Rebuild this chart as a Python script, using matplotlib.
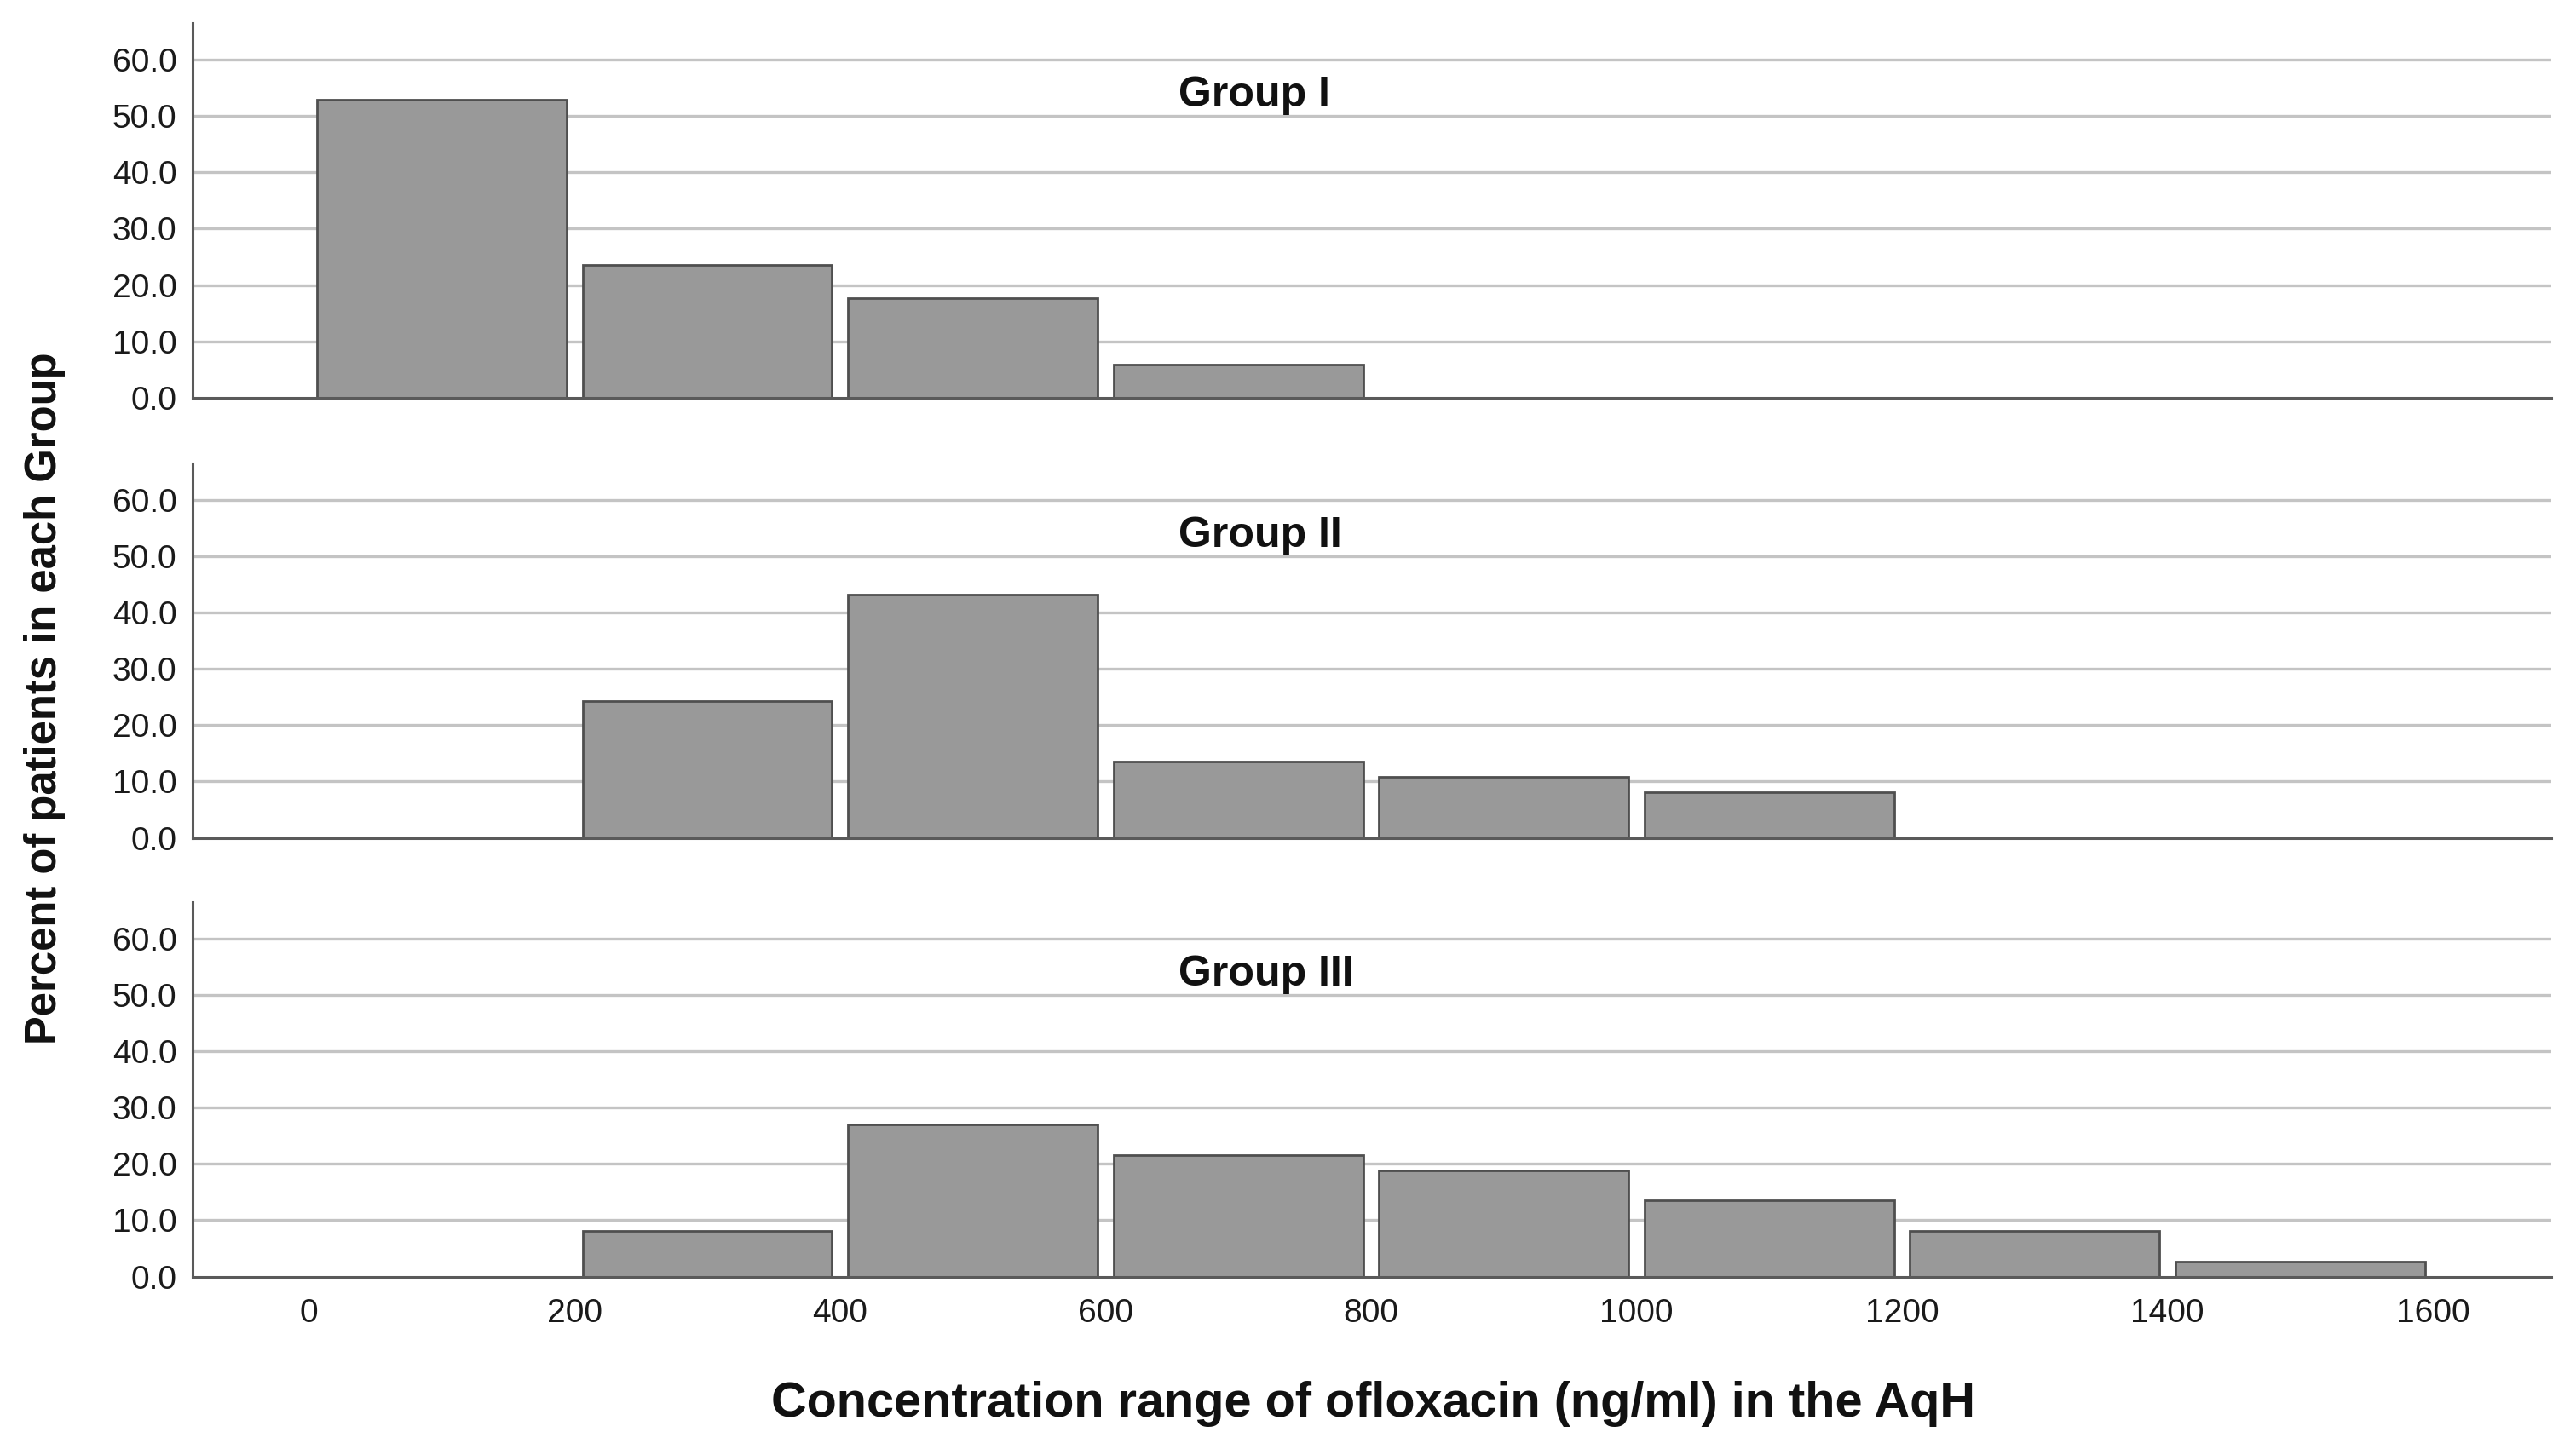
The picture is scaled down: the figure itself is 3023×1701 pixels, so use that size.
import matplotlib
matplotlib.use("Agg")
import matplotlib.pyplot as plt
from matplotlib import font_manager

bin_edges = [0, 200, 400, 600, 800, 1000, 1200, 1400, 1600]
groups = ["Group I", "Group II", "Group III"]
group1 = [52.9, 23.5, 17.6, 5.9, 0, 0, 0, 0]
group2 = [0, 24.3, 43.2, 13.5, 10.8, 8.1, 0, 0]
group3 = [0, 8.1, 27.0, 21.6, 18.9, 13.5, 8.1, 2.7]
values = [group1, group2, group3]
y_ticks = [0, 10, 20, 30, 40, 50, 60]
x_ticks = [0, 200, 400, 600, 800, 1000, 1200, 1400, 1600]
x_label = "Concentration range of ofloxacin (ng/ml) in the AqH"
y_label = "Percent of patients in each Group"

names = {f.name for f in font_manager.fontManager.ttflist}
narrow = "Liberation Sans Narrow" if "Liberation Sans Narrow" in names else "Liberation Sans"

fig = plt.figure(figsize=(30.23, 17.01), dpi=100)
left, right = 0.0746, 0.9904
h = 0.2585
bottoms = [0.7256, 0.4218, 0.119]

bar_color = "#999999"
edge_color = "#4f4f4f"
grid_color = "#c4c4c4"
spine_color = "#5a5a5a"

centers = [(bin_edges[i] + bin_edges[i + 1]) / 2 for i in range(len(bin_edges) - 1)]
for k, (b, vals, name) in enumerate(zip(bottoms, values, groups)):
    ax = fig.add_axes([left, b, right - left, h])
    ax.set_xlim(-88, 1689)
    ax.set_ylim(0, 66.5)
    for yt in y_ticks[1:]:
        ax.axhline(yt, color=grid_color, lw=2.4, zorder=0)
    cs = [c for c, v in zip(centers, vals) if v > 0]
    vs = [v for v in vals if v > 0]
    ax.bar(cs, vs, width=188, color=bar_color, edgecolor=edge_color, linewidth=2.0, zorder=2)
    for side in ["top", "right"]:
        ax.spines[side].set_visible(False)
    for side in ["left", "bottom"]:
        ax.spines[side].set_color(spine_color)
        ax.spines[side].set_linewidth(2.2)
    ax.spines["bottom"].set_zorder(3)
    ax.set_yticks(y_ticks)
    ax.set_yticklabels([f"{t:.1f}" for t in y_ticks])
    ax.tick_params(axis="y", length=0, pad=13, labelsize=28, labelcolor="#1a1a1a")
    for lab in ax.get_yticklabels():
        lab.set_fontfamily(narrow)
    ax.set_xticks(x_ticks)
    if k == 2:
        ax.set_xticklabels([str(t) for t in x_ticks])
        ax.tick_params(axis="x", length=0, pad=18, labelsize=28, labelcolor="#1a1a1a")
        for lab in ax.get_xticklabels():
            lab.set_fontfamily(narrow)
    else:
        ax.tick_params(axis="x", length=0, labelbottom=False)
    ax.text(655, 53.6, name, ha="left", va="center", fontsize=36,
            fontweight="bold", fontfamily=narrow, color="#111111", zorder=4)

fig.text(0.533, 0.031, x_label, ha="center", va="center", fontsize=41.5,
         fontweight="bold", fontfamily=narrow, color="#111111")
fig.text(0.0175, 0.518, y_label, ha="center", va="center", rotation=90,
         fontsize=36.5, fontweight="bold", fontfamily=narrow, color="#111111")

fig.savefig("out.png", dpi=100, facecolor="white")
